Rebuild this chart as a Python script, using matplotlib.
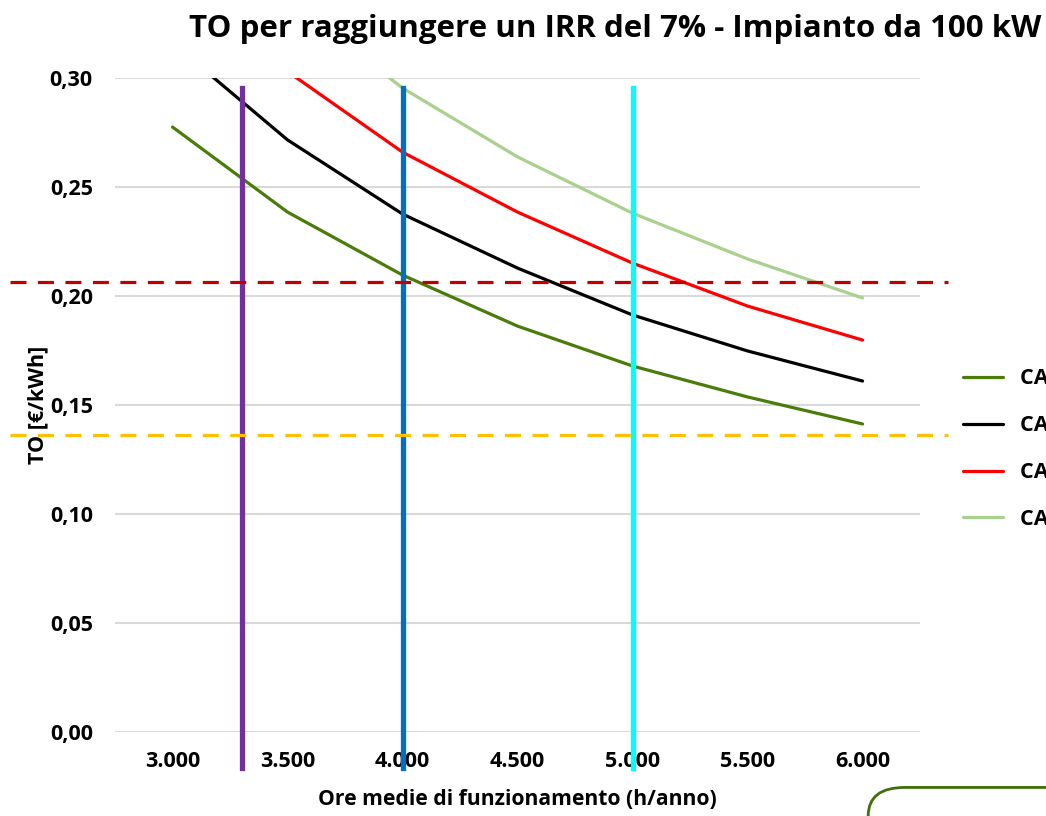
import matplotlib.pyplot as plt
from matplotlib.patches import FancyBboxPatch

plt.rcParams['font.family'] = ['Open Sans', 'DejaVu Sans']

# ore medie di funzionamento (categorie asse x)
ore = [3000, 3500, 4000, 4500, 5000, 5500, 6000]
ore_labels = ['3.000', '3.500', '4.000', '4.500', '5.000', '5.500', '6.000']

serie_labels = ['CAPEX 1', 'CAPEX 2', 'CAPEX 3', 'CAPEX 4']
to_1 = [0.2775, 0.2385, 0.2096, 0.1862, 0.1679, 0.1537, 0.1413]
to_2 = [0.3160, 0.2716, 0.2376, 0.2128, 0.1913, 0.1748, 0.1610]
to_3 = [0.3530, 0.3030, 0.2660, 0.2385, 0.2151, 0.1954, 0.1798]
to_4 = [0.3910, 0.3360, 0.2954, 0.2638, 0.2380, 0.2170, 0.1991]
colori = ['#4a7c0a', '#000000', '#ff0000', '#a9d18e']

# riferimenti verticali (ore) e orizzontali (TO)
ore_rif = [3300, 4000, 5000]
colori_v = ['#7030a0', '#0070c0', '#00ffff']
to_rif = [0.2064, 0.1362]
colori_h = ['#c00000', '#ffc000']

pos = [(h - ore[0]) / (ore[1] - ore[0]) for h in ore]

fig = plt.figure(figsize=(10.46, 8.16), dpi=100)
ax = fig.add_axes([0.110, 0.1029, 0.7696, 0.8015])

for vals, lab, c in zip([to_1, to_2, to_3, to_4], serie_labels, colori):
    ax.plot(pos, vals, color=c, lw=2.3, label=lab, zorder=3,
            solid_capstyle='round')

for h, c in zip(ore_rif, colori_v):
    p = (h - ore[0]) / (ore[1] - ore[0])
    ax.axvline(p, ymin=-0.055, ymax=0.985, color=c, lw=3.8,
               clip_on=False, zorder=4)

for v, c in zip(to_rif, colori_h):
    ax.axhline(v, xmin=-0.130, xmax=1.035, color=c, lw=2.3,
               dashes=(5, 3.6), clip_on=False, zorder=5)

ax.set_xlim(-0.5, 6.5)
ax.set_ylim(0, 0.30)
ax.set_yticks([0, 0.05, 0.10, 0.15, 0.20, 0.25, 0.30])
ax.set_yticklabels(['0,00', '0,05', '0,10', '0,15', '0,20', '0,25', '0,30'])
ax.set_xticks(pos)
ax.set_xticklabels(ore_labels)
ax.grid(axis='y', color='#d9d9d9', lw=1.5, zorder=0)
ax.set_axisbelow(True)
for s in ax.spines.values():
    s.set_visible(False)
ax.tick_params(axis='both', length=0, labelsize=15.5)
ax.tick_params(axis='x', pad=14)
ax.tick_params(axis='y', pad=16)
for t in ax.get_xticklabels() + ax.get_yticklabels():
    t.set_fontweight('bold')

ax.set_xlabel('Ore medie di funzionamento (h/anno)', fontsize=15.2,
              fontweight='bold', labelpad=12)
ax.set_ylabel('TO [€/kWh]', fontsize=15.5, fontweight='bold', labelpad=1)

fig.text(0.588, 0.965, 'TO per raggiungere un IRR del 7% - Impianto da 100 kW',
         ha='center', va='center', fontsize=22.5, fontweight='bold')

leg = ax.legend(loc='upper left', bbox_to_anchor=(0.902, 0.5723),
                bbox_transform=fig.transFigure, frameon=False,
                handlelength=1.87, handletextpad=0.79, labelspacing=1.2,
                prop={'size': 15.5, 'weight': 'bold'})

box = FancyBboxPatch((0.830, -0.05), 0.3, 0.085, transform=fig.transFigure,
                     boxstyle='round,pad=0,rounding_size=0.035',
                     fc='none', ec='#3f6e0a', lw=2.0, clip_on=False)
fig.patches.append(box)

fig.savefig('out.png', dpi=100)
